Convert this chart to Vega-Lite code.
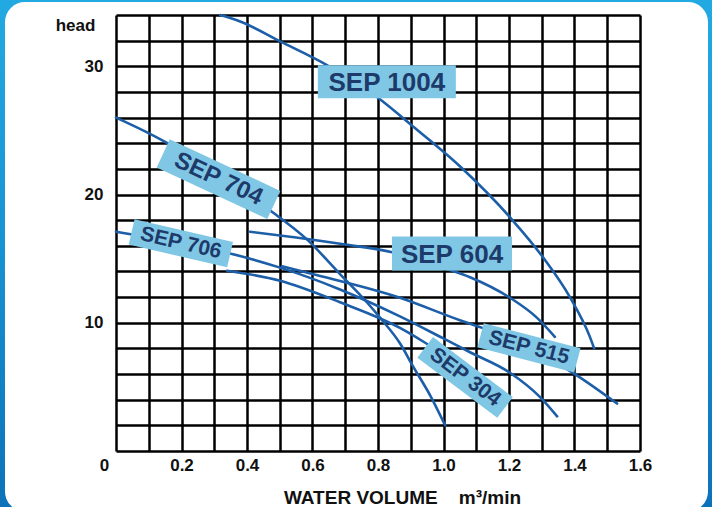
{
  "$schema": "https://vega.github.io/schema/vega-lite/v6.json",
  "width": 524,
  "height": 436,
  "autosize": {"type": "none"},
  "padding": {"left": 116, "top": 15, "right": 72, "bottom": 56},
  "background": "#ffffff",
  "config": {"view": {"stroke": null}, "font": "Liberation Sans"},
  "datasets": {
    "curves": [
      {"model": "SEP 1004", "flow": 0.318, "head": 34.0},
      {"model": "SEP 1004", "flow": 0.379, "head": 33.5},
      {"model": "SEP 1004", "flow": 0.501, "head": 31.95},
      {"model": "SEP 1004", "flow": 0.644, "head": 30.1},
      {"model": "SEP 1004", "flow": 0.797, "head": 27.6},
      {"model": "SEP 1004", "flow": 0.907, "head": 25.3},
      {"model": "SEP 1004", "flow": 1.05, "head": 22.2},
      {"model": "SEP 1004", "flow": 1.209, "head": 18.05},
      {"model": "SEP 1004", "flow": 1.304, "head": 15.1},
      {"model": "SEP 1004", "flow": 1.386, "head": 12.0},
      {"model": "SEP 1004", "flow": 1.447, "head": 8.9},
      {"model": "SEP 1004", "flow": 1.46, "head": 8.0},
      {"model": "SEP 704", "flow": 0, "head": 26.0},
      {"model": "SEP 704", "flow": 0.15, "head": 24.1},
      {"model": "SEP 704", "flow": 0.3, "head": 21.6},
      {"model": "SEP 704", "flow": 0.479, "head": 18.6},
      {"model": "SEP 704", "flow": 0.583, "head": 16.5},
      {"model": "SEP 704", "flow": 0.684, "head": 13.8},
      {"model": "SEP 704", "flow": 0.766, "head": 11.6},
      {"model": "SEP 704", "flow": 0.806, "head": 10.4},
      {"model": "SEP 704", "flow": 0.867, "head": 8.4},
      {"model": "SEP 704", "flow": 0.907, "head": 6.6},
      {"model": "SEP 704", "flow": 0.96, "head": 4.3},
      {"model": "SEP 704", "flow": 1.005, "head": 2.0},
      {"model": "SEP 706", "flow": 0, "head": 17.1},
      {"model": "SEP 706", "flow": 0.1, "head": 16.65},
      {"model": "SEP 706", "flow": 0.2, "head": 16.15},
      {"model": "SEP 706", "flow": 0.348, "head": 15.4},
      {"model": "SEP 706", "flow": 0.501, "head": 14.3},
      {"model": "SEP 706", "flow": 0.684, "head": 12.6},
      {"model": "SEP 706", "flow": 0.867, "head": 10.5},
      {"model": "SEP 706", "flow": 0.998, "head": 8.8},
      {"model": "SEP 706", "flow": 1.081, "head": 7.7},
      {"model": "SEP 706", "flow": 1.203, "head": 6.1},
      {"model": "SEP 706", "flow": 1.295, "head": 4.2},
      {"model": "SEP 706", "flow": 1.347, "head": 2.7},
      {"model": "SEP 604", "flow": 0.409, "head": 17.1},
      {"model": "SEP 604", "flow": 0.55, "head": 16.65},
      {"model": "SEP 604", "flow": 0.7, "head": 16.1},
      {"model": "SEP 604", "flow": 0.843, "head": 15.5},
      {"model": "SEP 604", "flow": 0.998, "head": 14.3},
      {"model": "SEP 604", "flow": 1.081, "head": 13.55},
      {"model": "SEP 604", "flow": 1.203, "head": 11.95},
      {"model": "SEP 604", "flow": 1.285, "head": 10.4},
      {"model": "SEP 604", "flow": 1.34, "head": 8.9},
      {"model": "SEP 515", "flow": 0.507, "head": 14.4},
      {"model": "SEP 515", "flow": 0.6, "head": 13.8},
      {"model": "SEP 515", "flow": 0.867, "head": 11.95},
      {"model": "SEP 515", "flow": 1.05, "head": 10.2},
      {"model": "SEP 515", "flow": 1.118, "head": 9.6},
      {"model": "SEP 515", "flow": 1.26, "head": 8.0},
      {"model": "SEP 515", "flow": 1.395, "head": 6.1},
      {"model": "SEP 515", "flow": 1.53, "head": 3.7},
      {"model": "SEP 304", "flow": 0.339, "head": 14.06},
      {"model": "SEP 304", "flow": 0.501, "head": 13.28},
      {"model": "SEP 304", "flow": 0.684, "head": 11.6},
      {"model": "SEP 304", "flow": 0.867, "head": 9.6},
      {"model": "SEP 304", "flow": 0.944, "head": 8.44},
      {"model": "SEP 304", "flow": 1.05, "head": 6.6},
      {"model": "SEP 304", "flow": 1.15, "head": 4.4}
    ],
    "labels": [
      {"model": "SEP 1004", "flow": 0.827, "head": 28.8},
      {"model": "SEP 704", "flow": 0.313, "head": 21.2},
      {"model": "SEP 706", "flow": 0.198, "head": 16.2},
      {"model": "SEP 604", "flow": 1.026, "head": 15.4},
      {"model": "SEP 515", "flow": 1.261, "head": 8.05},
      {"model": "SEP 304", "flow": 1.066, "head": 5.74}
    ]
  },
  "layer": [
    {
      "data": {"values": [{}]},
      "mark": {
        "type": "rect",
        "fillOpacity": 0,
        "strokeWidth": 80,
        "cornerRadius": 60,
        "stroke": {
          "gradient": "linear", "x1": 0, "y1": 0, "x2": 0, "y2": 1,
          "stops": [
            {"offset": 0, "color": "#25ade4"},
            {"offset": 0.5, "color": "#1791d3"},
            {"offset": 1, "color": "#0b6cb4"}
          ]
        }
      },
      "encoding": {
        "x": {"datum": -0.4611, "type": "quantitative"},
        "x2": {"datum": 1.9298},
        "y": {"datum": 38.125, "type": "quantitative"},
        "y2": {"datum": -7.836}
      }
    },
    {
      "data": {"name": "curves"},
      "mark": {"type": "line", "interpolate": "monotone", "strokeWidth": 2.6, "color": "#1c5ea8", "strokeCap": "round"},
      "encoding": {
        "x": {
          "field": "flow", "type": "quantitative",
          "scale": {"domain": [0, 1.6], "nice": false, "zero": false},
          "axis": {
            "values": [0, 0.1, 0.2, 0.3, 0.4, 0.5, 0.6, 0.7, 0.8, 0.9, 1.0, 1.1, 1.2, 1.3, 1.4, 1.5, 1.6],
            "tickCount": 100,
            "grid": true, "gridColor": "#000000", "gridWidth": 2.5, "gridOpacity": 1,
            "domain": false, "ticks": false,
            "labelExpr": "round(datum.value*10)%2==1 ? '' : (datum.value==0 ? '0' : format(datum.value,'.1f'))",
            "labelFont": "Liberation Sans", "labelFontWeight": "bold", "labelFontSize": 17,
            "labelColor": "#111111", "labelPadding": 6, "labelFlush": false, "labelOverlap": false,
            "labelOffset": {"condition": {"test": "datum.value == 0", "value": -12}, "value": 0},
            "title": "WATER VOLUME\u00a0\u00a0\u00a0 m³/min",
            "titleFont": "Liberation Sans", "titleFontSize": 19, "titleFontWeight": "bold", "titleColor": "#111111",
            "titleX": 286, "titleY": 52, "titleAlign": "center", "titleBaseline": "alphabetic"
          }
        },
        "y": {
          "field": "head", "type": "quantitative",
          "scale": {"domain": [0, 34], "nice": false, "zero": false},
          "axis": {
            "values": [0, 2, 4, 6, 8, 10, 12, 14, 16, 18, 20, 22, 24, 26, 28, 30, 32, 34],
            "tickCount": 100,
            "grid": true, "gridColor": "#000000", "gridWidth": 2.5, "gridOpacity": 1,
            "domain": false, "ticks": false,
            "labelExpr": "(datum.value==10 || datum.value==20 || datum.value==30) ? ('' + datum.value) : ''",
            "labelFont": "Liberation Sans", "labelFontWeight": "bold", "labelFontSize": 17,
            "labelColor": "#111111", "labelPadding": 13, "labelOverlap": false,
            "title": "head", "titleAngle": 0,
            "titleFont": "Liberation Sans", "titleFontSize": 17, "titleFontWeight": "bold", "titleColor": "#111111",
            "titleX": -41, "titleY": 15, "titleAlign": "center", "titleBaseline": "alphabetic"
          }
        },
        "detail": {"field": "model", "type": "nominal"}
      }
    },
    {
      "data": {"name": "labels"},
      "transform": [{"filter": "datum.model == 'SEP 1004'"}],
      "encoding": {"x": {"field": "flow", "type": "quantitative"}, "y": {"field": "head", "type": "quantitative"}},
      "layer": [
        {"mark": {"type": "point", "shape": "M-1,-0.239L1,-0.239L1,0.239L-1,0.239Z", "size": 19044, "angle": 0, "filled": true, "color": "#7fc7e4", "opacity": 1, "strokeOpacity": 0}},
        {"mark": {"type": "text", "angle": 0, "fontSize": 26, "fontWeight": "bold", "font": "Liberation Sans", "color": "#1d3a6a", "align": "center", "baseline": "middle", "dy": 1}, "encoding": {"text": {"field": "model"}}}
      ]
    },
    {
      "data": {"name": "labels"},
      "transform": [{"filter": "datum.model == 'SEP 604'"}],
      "encoding": {"x": {"field": "flow", "type": "quantitative"}, "y": {"field": "head", "type": "quantitative"}},
      "layer": [
        {"mark": {"type": "point", "shape": "M-1,-0.283L1,-0.283L1,0.283L-1,0.283Z", "size": 14400, "angle": 0, "filled": true, "color": "#7fc7e4", "opacity": 1, "strokeOpacity": 0}},
        {"mark": {"type": "text", "angle": 0, "fontSize": 26, "fontWeight": "bold", "font": "Liberation Sans", "color": "#1d3a6a", "align": "center", "baseline": "middle", "dy": 1}, "encoding": {"text": {"field": "model"}}}
      ]
    },
    {
      "data": {"name": "labels"},
      "transform": [{"filter": "datum.model == 'SEP 704'"}],
      "encoding": {"x": {"field": "flow", "type": "quantitative"}, "y": {"field": "head", "type": "quantitative"}},
      "layer": [
        {"mark": {"type": "point", "shape": "M-1,-0.254L1,-0.254L1,0.254L-1,0.254Z", "size": 14884, "angle": 25, "filled": true, "color": "#7fc7e4", "opacity": 1, "strokeOpacity": 0}},
        {"mark": {"type": "text", "angle": 25, "fontSize": 24, "fontWeight": "bold", "font": "Liberation Sans", "color": "#1d3a6a", "align": "center", "baseline": "middle"}, "encoding": {"text": {"field": "model"}}}
      ]
    },
    {
      "data": {"name": "labels"},
      "transform": [{"filter": "datum.model == 'SEP 706'"}],
      "encoding": {"x": {"field": "flow", "type": "quantitative"}, "y": {"field": "head", "type": "quantitative"}},
      "layer": [
        {"mark": {"type": "point", "shape": "M-1,-0.257L1,-0.257L1,0.257L-1,0.257Z", "size": 10201, "angle": 13, "filled": true, "color": "#7fc7e4", "opacity": 1, "strokeOpacity": 0}},
        {"mark": {"type": "text", "angle": 13, "fontSize": 21, "fontWeight": "bold", "font": "Liberation Sans", "color": "#1d3a6a", "align": "center", "baseline": "middle"}, "encoding": {"text": {"field": "model"}}}
      ]
    },
    {
      "data": {"name": "labels"},
      "transform": [{"filter": "datum.model == 'SEP 515'"}],
      "encoding": {"x": {"field": "flow", "type": "quantitative"}, "y": {"field": "head", "type": "quantitative"}},
      "layer": [
        {"mark": {"type": "point", "shape": "M-1,-0.25L1,-0.25L1,0.25L-1,0.25Z", "size": 10000, "angle": 14.5, "filled": true, "color": "#7fc7e4", "opacity": 1, "strokeOpacity": 0}},
        {"mark": {"type": "text", "angle": 14.5, "fontSize": 21, "fontWeight": "bold", "font": "Liberation Sans", "color": "#1d3a6a", "align": "center", "baseline": "middle"}, "encoding": {"text": {"field": "model"}}}
      ]
    },
    {
      "data": {"name": "labels"},
      "transform": [{"filter": "datum.model == 'SEP 304'"}],
      "encoding": {"x": {"field": "flow", "type": "quantitative"}, "y": {"field": "head", "type": "quantitative"}},
      "layer": [
        {"mark": {"type": "point", "shape": "M-1,-0.26L1,-0.26L1,0.26L-1,0.26Z", "size": 10000, "angle": 37, "filled": true, "color": "#7fc7e4", "opacity": 1, "strokeOpacity": 0}},
        {"mark": {"type": "text", "angle": 37, "fontSize": 21, "fontWeight": "bold", "font": "Liberation Sans", "color": "#1d3a6a", "align": "center", "baseline": "middle"}, "encoding": {"text": {"field": "model"}}}
      ]
    }
  ]
}
